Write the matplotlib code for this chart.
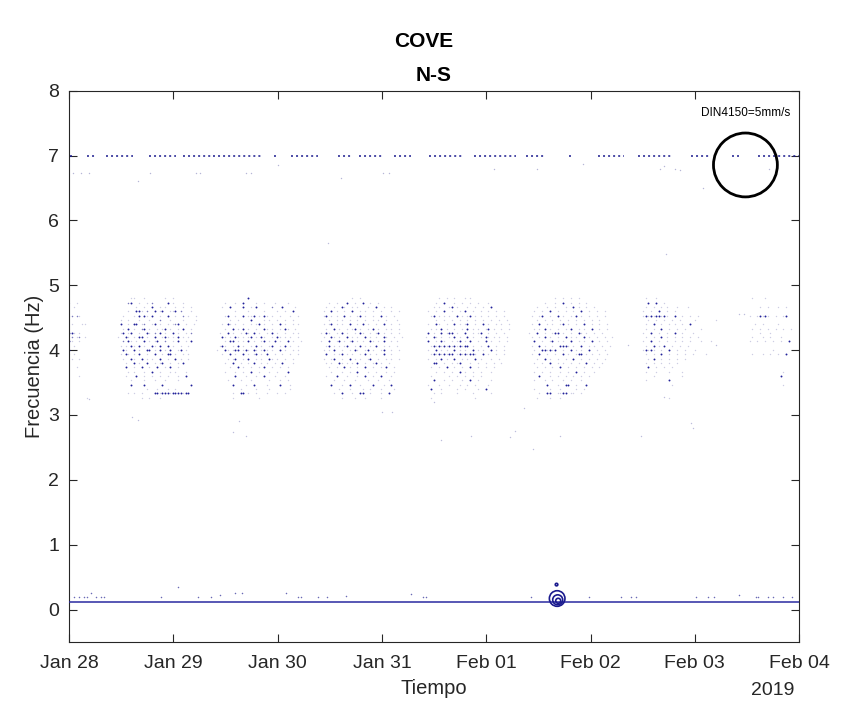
import matplotlib
matplotlib.use("Agg")
import matplotlib.pyplot as plt
import matplotlib.dates as mdates
from datetime import datetime

plt.rcParams['font.family'] = ['Liberation Sans', 'DejaVu Sans']

# ---------------- data (days after 2019-01-28 00:00, frequency in Hz) ----------------
start = datetime(2019, 1, 28)
station = 'COVE'
component = 'N-S'

# spectrogram peak grid: columns every 0.025 day, rows every 1/15 Hz from 4.8 Hz down
# '#' strong peak, ':' medium, '.' weak
grid_dt = 0.025
grid_df = 1.0 / 15
grid_top = 4.8

night0_start = 0.0
night0 = [
    "         ",
    ".  .     ",
    "  .      ",
    "         ",
    ".: :.    ",
    "         ",
    " .   ..  ",
    "         ",
    "##. .    ",
    " : .: .  ",
    "#.  .    ",
    "  .      ",
    "#        ",
    ". .      ",
    " .  .    ",
    "         ",
    "   .     ",
    "         ",
    "    .    ",
    "         ",
    "         ",
    "         ",
    "         ",
    "       . ",
]

night1_start = 0.445
night1 = [
    "      ..   .       .  .         ",
    "     :#  .  . :     # .   .     ",
    "        .  .  #  . .   .  .  .  ",
    "     .  ##. :  # .#  ..# :   .  ",
    "   .   . # #. #  .  #  .  : .  .",
    "  .  .   .   .   :   .    .    .",
    "  #  . ## .:  .# .  . .:#  .  . ",
    "   . # .  :# .  . .# .  . #  .  ",
    "  .# .#  .  #. : # .  # .  . :  ",
    " .  #. . ## .  #  .#. . # . .   ",
    "   : #. .  # . .#  :  . #  . #  ",
    "  . . #. # .  #. #  # .  .  .   ",
    "   #.  # .  ## . # . #  .# .    ",
    "  . #. . #  .  #  . ## .  . .   ",
    "   .  #.  # . .  #  .  # .  .   ",
    "    .  # .  #  . .#  .  . #     ",
    "    #  .  #  .  #  . #  .       ",
    "     . .   .  #  .   . .   .    ",
    "    .   #  .  .  .  .   .  #    ",
    "      .    .   .   .    .       ",
    "      #    #      #          #  ",
    "            .   .   .  .        ",
    "     . .  .    ##.###.####.##   ",
    "          .  .   .              ",
]

night2_start = 1.42
night2 = [
    "            #                      ",
    "   .   .  #    .  .   .    .       ",
    "  .  #    #  . #     :   #    .    ",
    "       .    .     .    .  .  #     ",
    "   .#  .  # ..# . #. .  .   .  .   ",
    "     .  .    #    . .  .  .  .     ",
    "  . #. .  .  . .# .  .  # .  . .   ",
    "   .  # . # .  .  #. .  . #.  .    ",
    " .  # .  . #. # .  . # .  .  . .   ",
    "  #. . #. . .# . #.  . #. . .  .   ",
    "   . ## . . # .  .# . # .  # .  .  ",
    " .#.  . # .  . # .  .#  . # .  .   ",
    ".  #. .## .#. #. .#. .  # .  . .   ",
    "  .  # .  # . .# . #  .  .  .  .   ",
    "    . .#  . #  . .  #. .  .  .     ",
    "   .  #  .  . #  . .  .  #   .     ",
    "     .  # .  .  . #  .  .  .       ",
    "   .   .  .  #  .   .  .   #       ",
    "       #   .   .  #   .   .        ",
    "    .    .   .      .   .  .       ",
    "      #    .  #    .    #   .      ",
    "         .     .    .       .      ",
    "      .  ## .  .   .   .  .        ",
    "      .         .                  ",
]

night3_start = 2.39
night3 = [
    "             .  .                  ",
    "    .  .   #  .  #  .  .           ",
    "   .  .  #.  . .   .  #  .  .      ",
    "  .  # .  .  #  . .  .  .   .  .   ",
    "  .# . .  # .  .# .  .  # .  .     ",
    "    .  . .  .  .  .  . .  .   .    ",
    "  . .# . .  #  . # .  .  #  .  .   ",
    "   .  # .  . .# .  . # .  . .  .   ",
    " . #.  . # .  . #.  . .# .  .  .   ",
    "  .  #. .  # . .  # . .  #.  .  .  ",
    " .  #  .# . .# . .  #. . #  . .    ",
    "   .# . . .#  . # . . #  . .  .    ",
    "  . . #  .  . #.  .# .  .#  .  .   ",
    "   #  . .# . .  . # . .  #  .      ",
    "  .  .#  .  # . .  .#  .  . .  .   ",
    "   . .  #. . . #  .  .# .  .       ",
    "    .  .  # .  .  #  .  . #  .     ",
    "     .   .  .  #   .  .   .  .     ",
    "   .   #   .   .  #  .  #   .      ",
    "      .   .   .    .   .   .       ",
    "     #   .  #   .    #   .  #      ",
    "        .   .    .  .   .    .     ",
    "      .  #   .  ##  .   .  #       ",
    "         .    .   .     .          ",
]

night4_start = 3.42
night4 = [
    "     .  .  .   . .                ",
    "    .  #   .  .  .  .   .         ",
    "   . .   .# .   .  .  .  #        ",
    " .  .  #  .  . #  .  .  .  .  .   ",
    "  .# . . .  # . .# . .  .  .  .   ",
    "    .  .  .  .  .  .  .  .  .  .  ",
    " .  #.  .  # . .#  .  # .  . .  . ",
    "  . . # .  .  . # . .  .# .  .  . ",
    " # .  # .## .  #  . .#  .  .  .   ",
    ".  #. .  . # .  # .  . #. . .  .  ",
    " #  . #.  . .# . #  .  # .  .  .  ",
    "  .#.#.#.#.#.#.## .  .  #  .  .   ",
    " .  # . .  # . .  # . .  # .  .   ",
    "  .#.#.#.## .#.#.##.  # .  .  .   ",
    " .  . # .  #  . .  # .   .  .     ",
    "   ##  .  . .#   .  .  .  .  .    ",
    "  .  .  #  .  .  #  .  .  .       ",
    "    .  .  .  # .  .  .   .        ",
    "  .      .  .  .  .  .            ",
    "   #   .  .   .  #  .    .        ",
    " .   .   .   .  .  .    .         ",
    "  #   .     .  .    .  #          ",
    "   .  .     .     .      .        ",
    "  .                .              ",
]

night5_start = 4.41
night5 = [
    "          .  .  .  .              ",
    "      .   .  #  .  .  .           ",
    "   .   .  .   .  # .  .  .        ",
    "  .  .  #  .  .  .  #  .  .  .    ",
    " .  .#  .  # .  . # .  .  .  .    ",
    "   .  .  .  .  .  .  .  .  .      ",
    " .  #  . .  .# .  .  #  .  .  .   ",
    "  . . # .  .  . #  . .  #  .  .   ",
    ".  #  .  .## .  .  #. .  .  .     ",
    " .  . # .  .  # . .  # .  .  .  . ",
    "  #  .  .# . .  #  . .  #  .  .   ",
    " .  # .  .  ###. .  #  . .  .  .  ",
    "  .  ##.#.#  .  # . .  #  .  .    ",
    " .  #  .  .  # .  .## . .  .  .   ",
    "   .  # .  .  .  #  .  .  .  .    ",
    "  .  .  #  . .  .  .  #  .  .     ",
    "   .  .  .  #  .  .  .  .  .      ",
    "  .  .  .   .  .  #  .   .        ",
    "    #   .  .  .  .  .  .          ",
    "  .   .  .   .  .   .             ",
    "       #   .  ##  .   #           ",
    "  .     .   .     .  .            ",
    "    .  ##  ..## ..  .             ",
    "   .    .   .                     ",
]

night6_start = 5.48
night6 = [
    "  .   .                       ",
    "   #  #  .                    ",
    "  .  .  . .   .   .           ",
    " .  .  #  .  .                ",
    " .#.#.##.#.  #  .  .  .       ",
    "   .  .  .  .  .     .       .",
    "  .  #  .  . .  .  #          ",
    "  .  .  #  .  .  .     .      ",
    " .  #  .  .  #  .   .         ",
    "  .  .  # .  .  .  .  .       ",
    " .  #  .  .  .  .  .   .   .  ",
    "  .  # . #  .  .  .           ",
    " .#.#.  .  #  .  .   .        ",
    "  .  .  #  .  .  .  .    .    ",
    "   . #  .  .  .  .            ",
    "  .  .  .  .  .               ",
    "   #  .  .  .                 ",
    "  .   .    .    .             ",
    "     .          .             ",
    "  .        #                  ",
    "            .                 ",
    "                              ",
    "                              ",
    "           .                  ",
]

night7_start = 6.5
night7 = [
    "  .    .          ",
    "                  ",
    "     .  .   .  .  ",
    "                  ",
    " .  .#.#.  .  .#  ",
    "                  ",
    "   .  .     .     ",
    "  .  .  .  .  .  .",
    "     .   .        ",
    "  .   .  .   .    ",
    " .  .  .  .  .  # ",
    "                  ",
    "          .       ",
    "  .   .  .  .  #  ",
    "                  ",
    "                  ",
    "                  ",
    "              .   ",
    "             #    ",
    "                  ",
    "              .   ",
]

nights = [(night0_start, night0), (night1_start, night1), (night2_start, night2),
          (night3_start, night3), (night4_start, night4), (night5_start, night5),
          (night6_start, night6), (night7_start, night7)]

# isolated weak peaks away from the bands (day, Hz)
stray_t = [0.19, 0.60, 0.66, 1.57, 1.63, 1.70, 2.48, 3.00, 3.10, 3.50, 3.57, 3.85, 4.23, 4.36,
           4.28, 4.45, 4.71, 5.48, 5.36, 5.72, 5.70, 6.20, 6.42, 6.47, 5.96, 5.98]
stray_f = [3.25, 2.97, 2.93, 2.73, 2.90, 2.67, 5.65, 3.05, 3.05, 3.20, 2.62, 2.68, 2.66, 3.10,
           2.76, 2.47, 2.67, 2.67, 4.08, 5.48, 3.27, 4.08, 4.55, 4.55, 2.88, 2.80]

# 7 Hz line: stretches of time where the peak is present (start day, end day)
line7_start = [0.014, 0.177, 0.350, 0.762, 1.088, 1.376, 1.961, 2.124, 2.574, 2.776, 3.111,
               3.447, 3.878, 4.377, 4.789, 5.067, 5.451, 5.960, 6.361, 6.610]
line7_end = [0.043, 0.254, 0.609, 1.021, 1.357, 1.836, 2.009, 2.383, 2.699, 3.016, 3.274,
             3.783, 4.281, 4.549, 4.827, 5.317, 5.787, 6.150, 6.419, 7.000]
line7_freq = [7.0] * len(line7_start)

near7_t = [0.034, 0.110, 0.187, 0.657, 0.780, 1.213, 1.260, 1.692, 1.740, 2.000, 2.610, 3.006,
           3.063, 4.070, 4.490, 4.930, 5.670, 5.700, 5.810, 5.860, 6.080, 6.710, 6.780]
near7_f = [6.73, 6.73, 6.73, 6.60, 6.73, 6.73, 6.73, 6.73, 6.73, 6.86, 6.65, 6.73,
           6.73, 6.80, 6.80, 6.87, 6.80, 6.84, 6.80, 6.77, 6.50, 6.80, 6.90]

# low-frequency band (~0.11 Hz) and the peaks just above it
base_t = [0.0, 7.0]
base_f = [0.113, 0.113]
low_t = [0.043, 0.091, 0.139, 0.177, 0.206, 0.254, 0.302, 0.331, 0.877, 1.040, 1.232, 1.357,
         1.452, 1.596, 1.663, 2.076, 2.191, 2.220, 2.383, 2.478, 2.651, 3.274, 3.389, 3.418,
         4.425, 4.981, 5.288, 5.384, 5.432, 6.007, 6.122, 6.180, 6.420, 6.582, 6.610, 6.697,
         6.754, 6.850, 6.936]
low_f = [0.20, 0.20, 0.20, 0.20, 0.25, 0.20, 0.20, 0.20, 0.20, 0.34, 0.20, 0.20,
         0.22, 0.25, 0.25, 0.25, 0.20, 0.20, 0.20, 0.20, 0.21, 0.24, 0.20, 0.20,
         0.20, 0.20, 0.20, 0.20, 0.20, 0.20, 0.20, 0.20, 0.23, 0.20, 0.20, 0.20,
         0.20, 0.20, 0.20]

# larger events on Feb 01 (day, Hz, PGV mm/s)
event_t = [4.680, 4.685, 4.690, 4.674]
event_f = [0.170, 0.150, 0.135, 0.385]
event_pgv = [1.22, 0.78, 0.39, 0.20]

# reference circle
din_label = 'DIN4150=5mm/s'
din_pgv = 5.0
din_t = 6.485
din_f = 6.855

pgv_strong = 0.15
pgv_medium = 0.12
pgv_weak = 0.11

# ---------------- plotting ----------------
t0 = mdates.date2num(start)
din_diam = 46.0  # marker diameter in points for din_pgv


def msize(pgv):
    return (pgv / din_pgv * din_diam) ** 2


navy = '#1a1a8e'
char_pgv = {'#': pgv_strong, ':': pgv_medium, '.': pgv_weak}
char_col = {'#': '#22229a', ':': '#7c7cbe', '.': '#cdcde3'}

fig = plt.figure(figsize=(8.47, 7.02), dpi=100)
ax = fig.add_axes([0.0815, 0.0855, 0.862, 0.7853])

for level in ['.', ':', '#']:
    xs, ys = [], []
    for n_start, rows in nights:
        for i, row in enumerate(rows):
            for j, c in enumerate(row):
                if c == level:
                    xs.append(t0 + n_start + j * grid_dt)
                    ys.append(grid_top - i * grid_df)
    ax.scatter(xs, ys, s=msize(char_pgv[level]), c=char_col[level], linewidths=0, zorder=2)

ax.scatter([t0 + t for t in stray_t], stray_f, s=msize(pgv_weak), c='#bdbddb', linewidths=0)
ax.scatter([t0 + t for t in near7_t], near7_f, s=msize(pgv_weak), c='#b6b6d6', linewidths=0)

ax.hlines(line7_freq, [t0 + t for t in line7_start], [t0 + t for t in line7_end],
          colors=navy, linewidth=1.1, linestyles=(0, (1.3, 2.0)), zorder=3)

ax.plot([t0 + t for t in base_t], base_f, color='#2a2aa0', lw=1.1, zorder=3)
ax.scatter([t0 + t for t in low_t], low_f, s=msize(pgv_medium), c='#6a6ab6', linewidths=0)

ax.scatter([t0 + t for t in event_t], event_f, s=[msize(p) for p in event_pgv],
           facecolors='none', edgecolors=navy, linewidths=1.2, zorder=4)

ax.scatter([t0 + din_t], [din_f], s=msize(din_pgv), facecolors='none',
           edgecolors='black', linewidths=2.0, zorder=5)
ax.text(t0 + din_t, din_f + 0.8, din_label, ha='center', va='center', fontsize=8.5)

ax.set_xlim(t0, t0 + 7)
ax.set_ylim(-0.5, 8)
ax.set_yticks(range(0, 9))
ax.xaxis.set_major_locator(mdates.DayLocator())
ax.xaxis.set_major_formatter(mdates.DateFormatter('%b %d'))

ax.tick_params(direction='in', length=6, width=0.8, top=True, right=True,
               labelsize=14, colors='#262626')
ax.tick_params(axis='x', pad=9.5)
ax.tick_params(axis='y', pad=7)
for sp in ax.spines.values():
    sp.set_color('#262626')
    sp.set_linewidth(0.8)

ax.set_xlabel('Tiempo', fontsize=14.5, color='#262626', labelpad=5)
ax.set_ylabel('Frecuencia (Hz)', fontsize=14.5, color='#262626', labelpad=3)
ax.set_title(component, fontsize=15, fontweight='bold', pad=7)
fig.suptitle(station, fontsize=15, fontweight='bold', y=0.955)
fig.text(0.912, 0.017, '2019', ha='center', va='center', fontsize=14, color='#262626')

fig.savefig('out.png', dpi=100)
